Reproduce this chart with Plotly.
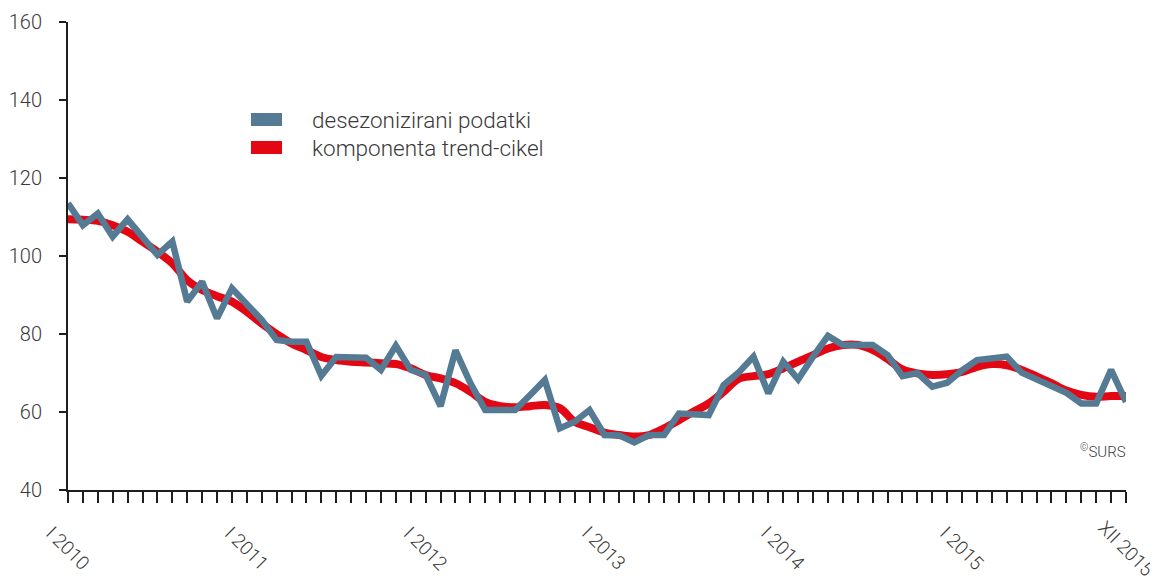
import plotly.graph_objects as go

months = list(range(72))
tick_pos = [0, 12, 24, 36, 48, 60, 71]
tick_text = ["I 2010", "I 2011", "I 2012", "I 2013", "I 2014", "I 2015", "XII 2015"]
y_ticks = [40, 60, 80, 100, 120, 140, 160]

deseason = [113.5, 107.9, 110.9, 105.0, 109.4, 105.0, 100.3, 103.7, 88.3, 93.4, 84.0, 91.7,
            87.5, 83.6, 78.5, 78.0, 78.0, 69.3, 74.1, 74.0, 73.9, 70.8, 77.0, 70.8,
            69.5, 61.5, 75.8, 67.4, 60.5, 60.5, 60.5, 64.3, 68.2, 55.8, 57.5, 60.5,
            54.1, 54.0, 52.2, 54.1, 54.1, 59.6, 59.4, 59.2, 66.9, 70.1, 74.2, 64.8,
            72.9, 68.4, 74.2, 79.5, 77.2, 77.1, 77.2, 74.6, 69.2, 70.0, 66.5, 67.5,
            70.7, 73.3, 73.8, 74.2, 70.1, 68.3, 66.6, 64.9, 62.2, 62.2, 70.8, 62.6]

trend = [109.4, 109.3, 109.0, 107.9, 106.2, 103.7, 101.1, 98.1, 93.8, 91.3, 89.7, 88.3,
         85.7, 82.7, 80.0, 77.6, 75.9, 74.1, 73.3, 72.9, 72.7, 72.5, 72.3, 71.2,
         69.5, 68.6, 67.4, 65.2, 62.6, 61.5, 61.2, 61.5, 61.8, 61.0, 57.5, 56.1,
         54.7, 54.1, 53.7, 54.1, 55.8, 57.9, 60.1, 62.2, 65.2, 68.5, 69.2, 69.7,
         71.2, 72.9, 74.6, 76.3, 77.2, 77.2, 75.9, 73.6, 70.9, 69.9, 69.5, 69.7,
         70.3, 71.6, 72.3, 72.0, 70.8, 69.1, 67.4, 65.5, 64.4, 63.9, 64.1, 64.1]

BLUE = "#557a93"
RED = "#e30613"
TXT = "#3a3a3a"
AX = "#1e1e1e"
FONT = "Roboto"
W = 300

fig = go.Figure()
fig.add_trace(go.Scatter(x=months, y=trend, mode="lines",
                         line=dict(color=RED, width=8, shape="spline", smoothing=1.0),
                         name="komponenta trend-cikel", showlegend=False))
fig.add_trace(go.Scatter(x=months, y=deseason, mode="lines",
                         line=dict(color=BLUE, width=6.5),
                         name="desezonizirani podatki", showlegend=False))

PW, PH = 1058, 468

# manual legend
legend_items = [("desezonizirani podatki", BLUE, (490 - 119.5) / PH),
                ("komponenta trend-cikel", RED, (490 - 147.5) / PH)]
for label, col, yp in legend_items:
    fig.add_shape(type="rect", xref="paper", yref="paper",
                  x0=(251 - 68) / PW, x1=(282 - 68) / PW,
                  y0=yp - 6.5 / PH, y1=yp + 6.5 / PH,
                  fillcolor=col, line=dict(width=0))
    fig.add_annotation(x=(312 - 68) / PW, y=yp, xref="paper", yref="paper",
                       text=label, showarrow=False, xanchor="left", yanchor="middle",
                       xshift=-2,
                       font=dict(family=FONT, size=22.5, color=TXT, weight=W))

fig.add_annotation(x=(1128 - 68) / PW, y=(490 - 451) / PH, xref="paper", yref="paper",
                   text="<sup>©</sup>SURS", showarrow=False, xanchor="right", yanchor="middle",
                   font=dict(family=FONT, size=15, color=TXT, weight=W))

# rotated x tick labels
for v, t in zip(tick_pos, tick_text):
    fig.add_annotation(x=v, y=0, xref="x", yref="paper", text=t, showarrow=False,
                       textangle=45, xanchor="center", yanchor="middle",
                       xshift=0, yshift=-58,
                       font=dict(family=FONT, size=19, color=TXT, weight=W))

fig.update_layout(
    width=1150, height=573,
    margin=dict(l=60, r=32, t=14, b=91, autoexpand=False),
    plot_bgcolor="white", paper_bgcolor="white",
    font=dict(family=FONT, color=TXT, size=18),
    xaxis=dict(range=[0, 71], tickvals=tick_pos, ticktext=tick_text, showticklabels=False,
               automargin=False,
               showgrid=False, zeroline=False, showline=True, linecolor=AX, linewidth=2,
               ticks="outside", ticklen=11, tickwidth=2, tickcolor=AX,
               minor=dict(dtick=1, tick0=0, ticks="outside", ticklen=11, tickwidth=2,
                          tickcolor=AX, showgrid=False)),
    yaxis=dict(range=[40, 160], tickvals=y_ticks, automargin=False,
               showgrid=False, zeroline=False, showline=True, linecolor=AX, linewidth=2,
               ticks="outside", ticklen=7, tickwidth=2, tickcolor=AX, ticklabelstandoff=13,
               tickfont=dict(family=FONT, size=20, color=TXT, weight=W)),
)

fig.write_html("out.html")
